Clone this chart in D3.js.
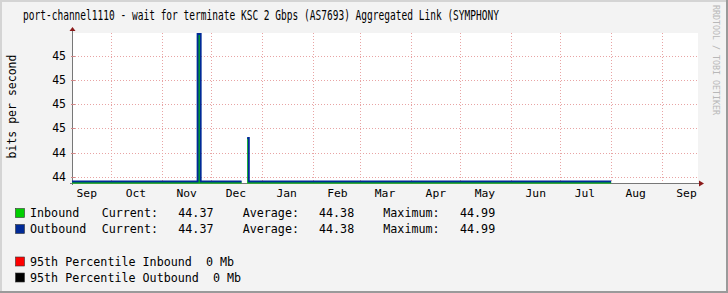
<!DOCTYPE html>
<html><head><meta charset="utf-8">
<script src="https://cdn.jsdelivr.net/npm/d3@7"></script>
<style>html,body{margin:0;padding:0;background:#f3f3f3;}svg{display:block;}</style>
</head><body>
<svg id="chart" width="728" height="293"></svg>
<script>
// ---- data ----
const title = "port-channel1110 - wait for terminate KSC 2 Gbps (AS7693) Aggregated Link (SYMPHONY";
const yLabel = "bits per second";
const timeStart = "2023-09-07T00:00";
const timeEnd = "2024-09-23T00:00";
const sampleTimes = ["2023-09-07T00:00","2023-11-22T16:00","2023-11-24T12:00","2023-12-19T12:00","2023-12-20T00:00","2023-12-22T21:00","2023-12-23T21:00","2024-08-01T00:00"];
const inbound  = [44.38, 44.99, 44.38, 44.38, null, 44.56, 44.38, 44.38];
const outbound = [44.38, 44.99, 44.38, 44.38, null, 44.56, 44.38, 44.38];
const yTicks = [44.4, 44.5, 44.6, 44.7, 44.8, 44.9];
const yTickLabels = ["44", "44", "45", "45", "45", "45"];
const monthStarts = ["2023-10-01","2023-11-01","2023-12-01","2024-01-01","2024-02-01","2024-03-01","2024-04-01","2024-05-01","2024-06-01","2024-07-01","2024-08-01","2024-09-01"];
const monthLabelDates = ["2023-09-16","2023-10-16","2023-11-16","2023-12-16","2024-01-16","2024-02-16","2024-03-16","2024-04-16","2024-05-16","2024-06-16","2024-07-16","2024-08-16","2024-09-16"];
const monthLabels = ["Sep","Oct","Nov","Dec","Jan","Feb","Mar","Apr","May","Jun","Jul","Aug","Sep"];
const legendRows = [
  {name:"Inbound",  color:"#00cf00", cur:"44.37", avg:"44.38", max:"44.99"},
  {name:"Outbound", color:"#002a97", cur:"44.37", avg:"44.38", max:"44.99"}
];
const pctRows = [
  {text:"95th Percentile Inbound  0 Mb", color:"#ff0000"},
  {text:"95th Percentile Outbound  0 Mb", color:"#000000"}
];
const yDomain = [44.374, 44.994];

// ---- layout ----
const L = 72, R = 698, T = 33, B = 183;
const svg = d3.select("#chart");
const mono = "'DejaVu Sans Mono', monospace";
const parse = s => new Date(s);

svg.append("rect").attr("width",728).attr("height",293).attr("fill","#f3f3f3");
// borders
svg.append("rect").attr("x",0).attr("y",0).attr("width",728).attr("height",2).attr("fill","#d4d4d4");
svg.append("rect").attr("x",0).attr("y",0).attr("width",2).attr("height",293).attr("fill","#d4d4d4");
svg.append("rect").attr("x",0).attr("y",291).attr("width",728).attr("height",2).attr("fill","#9a9a9a");
svg.append("rect").attr("x",726).attr("y",0).attr("width",2).attr("height",293).attr("fill","#9a9a9a");

const x = d3.scaleTime().domain([parse(timeStart), parse(timeEnd)]).range([L, R]);
const y = d3.scaleLinear().domain(yDomain).range([B, T]);

svg.append("rect").attr("x",L).attr("y",T).attr("width",R-L).attr("height",B-T).attr("fill","#ffffff");

// grid
const grid = svg.append("g").attr("stroke","#e8a4a4").attr("stroke-width",1).attr("stroke-dasharray","1,2");
grid.selectAll(".hg").data(yTicks).join("line")
  .attr("x1",L).attr("x2",R).attr("y1",d=>Math.round(y(d))+0.5).attr("y2",d=>Math.round(y(d))+0.5);
grid.selectAll(".vg").data(monthStarts).join("line")
  .attr("x1",d=>Math.round(x(parse(d)))+0.5).attr("x2",d=>Math.round(x(parse(d)))+0.5).attr("y1",T).attr("y2",B);

// axes (drawn under data)
svg.append("line").attr("x1",L+0.5).attr("x2",L+0.5).attr("y1",B+2).attr("y2",T-3).attr("stroke","#777").attr("stroke-width",1);
svg.append("line").attr("x1",L-2).attr("x2",R+2).attr("y1",B+0.5).attr("y2",B+0.5).attr("stroke","#777").attr("stroke-width",1);
svg.append("path").attr("d",`M${L+0.5-3},${T-2} L${L+0.5+3},${T-2} L${L+0.5},${T-6} Z`).attr("fill","#8b1a1a");
svg.append("path").attr("d",`M${R+1},${B+0.5-3} L${R+1},${B+0.5+3} L${R+6},${B+0.5} Z`).attr("fill","#8b1a1a");

// data
const pts = sampleTimes.map((t,i)=>({t:parse(t), a:inbound[i], b:outbound[i]}));
const area = d3.area().defined(d=>d.a!==null).x(d=>x(d.t)).y0(B+0.6).y1(d=>y(d.a)).curve(d3.curveStepAfter);
const line = d3.line().defined(d=>d.b!==null).x(d=>x(d.t)).y(d=>y(d.b)).curve(d3.curveStepAfter);
svg.append("path").datum(pts).attr("d",area).attr("fill","#00cf00");
svg.append("path").datum(pts).attr("d",line).attr("fill","none").attr("stroke","#002a97").attr("stroke-width",2);

// y ticks & labels
svg.selectAll(".yt").data(yTicks).join("line")
  .attr("x1",L-1).attr("x2",L+3).attr("y1",d=>Math.round(y(d))+0.5).attr("y2",d=>Math.round(y(d))+0.5)
  .attr("stroke","#d08888");
svg.selectAll(".yl").data(yTicks).join("text")
  .attr("x",66).attr("y",d=>y(d)+4).attr("text-anchor","end")
  .attr("font-family",mono).attr("font-size","11.5px").attr("fill","#000")
  .text((d,i)=>yTickLabels[i]);

// x labels
svg.selectAll(".xl").data(monthLabelDates).join("text")
  .attr("x",d=>x(parse(d))).attr("y",197).attr("text-anchor","middle")
  .attr("font-family",mono).attr("font-size","11.3px").attr("fill","#000")
  .text((d,i)=>monthLabels[i]);

// y axis title
svg.append("text").attr("transform","translate(16,106.5) rotate(-90)").attr("text-anchor","middle")
  .attr("font-family",mono).attr("font-size","11.5px").attr("fill","#000").text(yLabel);

// title
svg.append("text").attr("x",23).attr("y",19.5)
  .attr("font-family","'DejaVu Sans Mono',monospace")
  .attr("font-size","13.8px").attr("fill","#000")
  .attr("textLength",476).attr("lengthAdjust","spacingAndGlyphs").text(title);

// watermark
svg.append("text").attr("transform","translate(713,5) rotate(90)")
  .attr("font-family",mono).attr("font-size","8.3px").attr("fill","#b8b8b8").text("RRDTOOL / TOBI OETIKER");

// legend
const lg = svg.append("g").attr("font-family",mono).attr("font-size","11.7px").attr("fill","#000");
legendRows.forEach((r,i)=>{
  const by = 217 + i*16;
  lg.append("rect").attr("x",15.5).attr("y",by-8.5).attr("width",9).attr("height",9).attr("fill",r.color).attr("stroke","#333").attr("stroke-width",0.6);
  lg.append("text").attr("x",30).attr("y",by).text(r.name);
  lg.append("text").attr("x",101.7).attr("y",by).text("Current:");
  lg.append("text").attr("x",178.3).attr("y",by).text(r.cur);
  lg.append("text").attr("x",242.7).attr("y",by).text("Average:");
  lg.append("text").attr("x",319).attr("y",by).text(r.avg);
  lg.append("text").attr("x",383.3).attr("y",by).text("Maximum:");
  lg.append("text").attr("x",460).attr("y",by).text(r.max);
});
pctRows.forEach((r,i)=>{
  const by = 265.5 + i*16;
  lg.append("rect").attr("x",15.5).attr("y",by-8.5).attr("width",9).attr("height",9).attr("fill",r.color).attr("stroke","#333").attr("stroke-width",0.6);
  lg.append("text").attr("x",30).attr("y",by).attr("xml:space","preserve").style("white-space","pre").text(r.text);
});
</script>
</body></html>
